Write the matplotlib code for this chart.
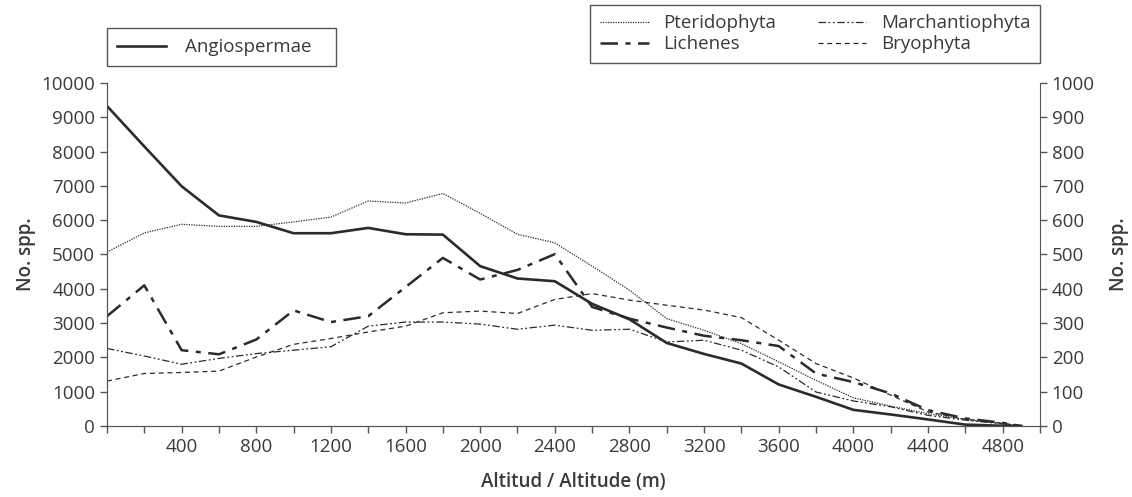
import matplotlib
matplotlib.use("Agg")
import matplotlib.pyplot as plt
from matplotlib.ticker import MultipleLocator

plt.rcParams['font.family'] = ['Open Sans', 'DejaVu Sans']

altitude = [0, 200, 400, 600, 800, 1000, 1200, 1400, 1600, 1800, 2000, 2200, 2400,
            2600, 2800, 3000, 3200, 3400, 3600, 3800, 4000, 4200, 4400, 4600, 4800, 4900]

# left axis
angiospermae = [9330, 8150, 6990, 6140, 5950, 5620, 5620, 5775, 5590, 5580, 4660, 4300, 4220,
                3560, 3110, 2420, 2100, 1820, 1210, 850, 470, 335, 190, 40, 5, 0]

# right axis
pteridophyta = [507, 563, 588, 582, 582, 595, 609, 656, 650, 678, 620, 559, 534,
                466, 396, 313, 279, 240, 187, 133, 82, 58, 36, 19, 7, 0]
lichenes = [320, 410, 221, 209, 252, 337, 303, 320, 405, 490, 427, 455, 501,
            347, 313, 287, 263, 250, 233, 153, 128, 95, 46, 22, 9, 0]
marchantiophyta = [226, 204, 180, 197, 211, 221, 231, 291, 303, 303, 297, 282, 294,
                   279, 282, 245, 250, 221, 172, 99, 73, 56, 31, 17, 6, 0]
bryophyta = [131, 153, 156, 160, 201, 238, 255, 274, 291, 330, 335, 328, 369,
             386, 367, 352, 338, 316, 250, 182, 140, 90, 41, 20, 8, 0]

ink = '#2b2b2b'
txt = '#3a3a3a'
fs = 13.5

fig = plt.figure(figsize=(11.32, 4.97), dpi=100)
ax = fig.add_axes([0.0945, 0.1429, 0.8242, 0.6901])
ax2 = ax.twinx()

l_ang, = ax.plot(altitude, angiospermae, color=ink, lw=1.9, label='Angiospermae   ')
l_pte, = ax2.plot(altitude, pteridophyta, color=ink, lw=0.9, ls=(0, (1, 1)), label='Pteridophyta')
l_lic, = ax2.plot(altitude, lichenes, color=ink, lw=1.8, ls=(0, (7, 3, 2, 3)), label='Lichenes')
l_mar, = ax2.plot(altitude, marchantiophyta, color=ink, lw=0.9,
                  ls=(0, (6, 2, 1.5, 2, 1.5, 2)), label='Marchantiophyta')
l_bry, = ax2.plot(altitude, bryophyta, color=ink, lw=0.9, ls=(0, (4, 3)), label='Bryophyta')

ax.set_xlim(0, 5000)
ax.set_ylim(0, 10000)
ax2.set_ylim(0, 1000)
ax.yaxis.set_major_locator(MultipleLocator(1000))
ax2.yaxis.set_major_locator(MultipleLocator(100))
ax.set_xticks(range(0, 5001, 200))
ax.set_xticklabels([str(v) if v % 400 == 0 and 0 < v < 5000 else '' for v in range(0, 5001, 200)])

for a in (ax, ax2):
    a.spines['top'].set_visible(False)
    for s in ('left', 'right', 'bottom'):
        a.spines[s].set_color('#555555')
    a.tick_params(colors='#555555', labelcolor=txt, labelsize=fs, length=5, width=1)
ax.spines['right'].set_visible(False)

ax.set_ylabel('No. spp.', fontsize=fs, fontweight='semibold', color=txt, labelpad=4)
ax2.set_ylabel('No. spp.', fontsize=fs, fontweight='semibold', color=txt, rotation=90, labelpad=10)
ax.set_xlabel('Altitud / Altitude (m)', fontsize=fs, fontweight='semibold', color=txt, labelpad=12)

leg1 = fig.legend(handles=[l_ang], loc='upper left', bbox_to_anchor=(0.0945, 0.944),
                  fancybox=False, edgecolor='#555555', framealpha=1, fontsize=fs,
                  handlelength=2.6, handletextpad=1.0, borderaxespad=0, borderpad=0.55,
                  labelcolor=txt)
leg1.get_frame().set_linewidth(1)

leg2 = fig.legend(handles=[l_pte, l_lic, l_mar, l_bry], loc='upper right', ncol=2,
                  bbox_to_anchor=(0.919, 0.99), fancybox=False, edgecolor='#555555',
                  framealpha=1, fontsize=fs, handlelength=2.6, borderaxespad=0,
                  borderpad=0.5, labelspacing=0.15, columnspacing=2.2, labelcolor=txt)
leg2.get_frame().set_linewidth(1)

fig.savefig('out.png', dpi=100)
